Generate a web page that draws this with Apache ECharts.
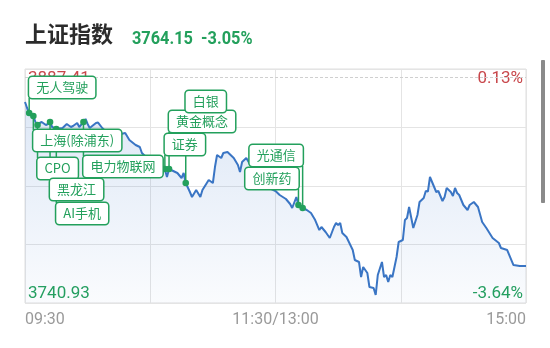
<!DOCTYPE html>
<html><head><meta charset="utf-8">
<script src="https://cdn.jsdelivr.net/npm/echarts@6/dist/echarts.min.js"></script>
<style>html,body{margin:0;padding:0;background:#fff}#c{width:550px;height:348px}</style>
</head><body><div id="c"></div>
<script>
// ---- data ----
const titleText = '上证指数';
const lastPrice = '3764.15';
const lastChange = '-3.05%';
const timeLabels = {0: '09:30', 120: '11:30/13:00', 240: '15:00'};
const yMin = 3740.93, yMax = 3887.41, prevClose = 3882.40;
const topPct = '0.13%', botPct = '-3.64%';
const minutes = [0,1,2,4,5,6,7,8,10,11,
12,13,15,18,20,22,23,25,26,28,
29,30,31,34,35,37,39,42,44,46,
48,50,53,55,56,58,61,63,66,67,
68,69,70,73,75,76,77,79,80,82,
84,85,88,90,91,92,94,95,97,98,
100,102,103,104,106,108,110,113,115,117,
120,122,125,127,128,130,131,133,135,137,
139,141,142,144,146,148,149,150,151,152,
154,157,158,160,161,162,164,165,167,168,
169,171,172,173,174,175,176,178,179,181,
182,183,184,186,188,189,191,192,193,194,
195,197,198,200,201,202,204,205,206,207,
208,210,212,213,215,217,219,221,224,227,
228,231,234,237,240];
const prices = [3866.75,3863.00,3859.87,3857.99,3854.23,3852.35,3853.61,3854.23,3852.35,3852.98,
3854.23,3851.10,3849.85,3850.48,3852.98,3851.10,3851.73,3853.61,3851.10,3854.23,
3856.11,3852.98,3850.48,3853.61,3853.90,3850.48,3847.97,3844.84,3845.47,3846.72,
3847.35,3842.96,3839.83,3838.58,3834.83,3832.32,3829.82,3827.31,3824.18,3824.81,
3819.80,3824.81,3824.18,3822.31,3819.18,3822.31,3816.05,3810.41,3807.28,3811.66,
3807.28,3811.66,3817.92,3816.05,3826.06,3833.57,3831.70,3834.83,3835.45,3834.20,
3831.70,3827.31,3822.93,3829.19,3831.70,3827.31,3822.93,3817.92,3814.79,3812.92,
3811.04,3808.53,3806.03,3802.90,3800.40,3807.28,3802.27,3800.40,3799.14,3797.27,
3792.88,3786.62,3788.50,3785.37,3781.62,3788.50,3791.01,3789.75,3791.01,3784.75,
3782.24,3774.10,3767.84,3766.59,3757.20,3763.46,3759.71,3750.94,3750.32,3745.93,
3758.45,3766.59,3757.20,3758.45,3754.07,3758.45,3757.20,3769.72,3779.11,3780.36,
3792.88,3794.14,3801.02,3787.88,3796.01,3804.15,3806.66,3811.04,3810.70,3819.80,
3816.67,3810.41,3811.04,3804.78,3807.28,3812.92,3810.41,3807.91,3812.92,3809.79,
3808.53,3802.27,3799.14,3802.27,3804.15,3801.02,3791.63,3787.88,3781.62,3778.49,
3775.36,3774.10,3764.71,3764.09,3764.15];
const tagNames = ['无人驾驶','上海(除浦东)','CPO','黑龙江','AI手机','电力物联网','证券','黄金概念','白银','光通信','创新药'];
const tagMinutes = [2,4,6,12,15,28,67,69,77,133,131];
// ---- layout (pixel offsets of label boxes from their dots) ----
const tagLayout = [
  {dy:-36, side:'L'}, {dy:14, side:'L'}, {dy:33, side:'L'}, {dy:57, side:'L'}, {dy:74, side:'L'},
  {dy:34, side:'L'}, {dy:-35, side:'L'}, {dy:-58, side:'L'}, {dy:-92, side:'L'},
  {dy:-63, side:'R'}, {dy:-37, side:'R'}
];
const GREEN = '#23a05c', RED = '#c8474b', BLUE = '#3a75c4';
const BOXH = 21;

const lineData = minutes.map((m, i) => [m, prices[i]]);
const priceAt = m => prices[minutes.indexOf(m)];
const tagData = tagMinutes.map((m, i) => [m, priceAt(m), i]);

const chart = echarts.init(document.getElementById('c'), null, {renderer: 'canvas'});
const option = {
  animation: false,
  backgroundColor: '#fff',
  grid: {left: 25, right: 24, top: 69, bottom: 45, show: true, borderColor: '#dedede', borderWidth: 1},
  xAxis: {
    type: 'value', min: 0, max: 240, interval: 60,
    axisLine: {show: false}, axisTick: {show: false},
    splitLine: {show: true, lineStyle: {color: '#e4e4e4', width: 1}},
    axisLabel: {
      color: '#9a9a9a', fontSize: 16, fontFamily: 'Roboto', margin: 9,
      formatter: v => timeLabels[v] || '',
      alignMinLabel: 'left', alignMaxLabel: 'right'
    }
  },
  yAxis: [
    {type: 'value', min: yMin, max: yMax, show: true, axisLine: {show: false}, axisTick: {show: false},
     axisLabel: {show: false}, splitLine: {show: false}},
    {type: 'value', min: 0, max: 4, interval: 1, axisLine: {show: false}, axisTick: {show: false},
     axisLabel: {show: false}, splitLine: {show: true, lineStyle: {color: '#e4e4e4', width: 1}}}
  ],
  graphic: [
    {type: 'rect', left: 541, top: 60, z: 100, shape: {width: 3, height: 142}, style: {fill: '#8a8a8a', stroke: '#8a8a8a'}}
  ],
  series: [
    {
      type: 'line', data: lineData, yAxisIndex: 0, showSymbol: false, z: 2,
      lineStyle: {color: BLUE, width: 2},
      areaStyle: {color: new echarts.graphic.LinearGradient(0, 0, 0, 1, [
        {offset: 0, color: 'rgba(70,125,205,0.26)'},
        {offset: 1, color: 'rgba(70,125,205,0.04)'}
      ])},
      markLine: {
        silent: true, symbol: 'none', label: {show: false},
        lineStyle: {color: '#cfcfcf', type: [3, 2], width: 1},
        data: [{yAxis: prevClose}]
      }
    },
    {
      type: 'custom', data: tagData, yAxisIndex: 0, z: 5,
      renderItem: (params, api) => {
        const i = api.value(2);
        const p = api.coord([api.value(0), api.value(1)]);
        const L = tagLayout[i];
        const top = p[1] + L.dy;
        const endY = L.dy > 0 ? top : top + BOXH;
        return {type: 'group', children: [
          {type: 'line', shape: {x1: p[0], y1: p[1], x2: p[0], y2: endY}, style: {stroke: GREEN, lineWidth: 1.5}},
          {type: 'circle', shape: {cx: p[0], cy: p[1], r: 3.3}, style: {fill: GREEN}}
        ]};
      }
    },
    {
      type: 'custom', data: tagData, yAxisIndex: 0, z: 6,
      renderItem: (params, api) => {
        const i = api.value(2);
        const p = api.coord([api.value(0), api.value(1)]);
        const L = tagLayout[i];
        const top = p[1] + L.dy;
        return {type: 'text', x: p[0], y: top, style: {
          text: tagNames[i], fill: GREEN, font: '13px "Noto Sans CJK SC"',
          align: L.side === 'L' ? 'left' : 'right', verticalAlign: 'top',
          lineHeight: 15, padding: [3, 7, 3, 7],
          backgroundColor: '#fff', borderColor: GREEN, borderWidth: 1.5, borderRadius: 3
        }};
      }
    }
  ]
};
chart.setOption(option);

const tl = chart.convertToPixel({xAxisIndex: 0, yAxisIndex: 0}, [0, yMax]);
const br = chart.convertToPixel({xAxisIndex: 0, yAxisIndex: 0}, [240, yMin]);
const cornerFont = '17px Roboto';
chart.setOption({graphic: [
  {type: 'rect', left: 541, top: 60, z: 100, shape: {width: 3, height: 142}, style: {fill: '#8a8a8a', stroke: '#8a8a8a'}},
  {type: 'text', left: 25, top: 23, style: {text: titleText, font: 'bold 22px "Noto Sans CJK SC"', fill: '#2b2b2b'}},
  {type: 'text', x: 132, y: 39, scaleX: 0.86, style: {text: lastPrice + '  ' + lastChange, font: 'bold 19px Roboto', fill: GREEN, verticalAlign: 'middle'}},
  {type: 'text', x: tl[0] + 3, y: tl[1] + 1, z: 1, style: {text: yMax.toFixed(2), font: cornerFont, fill: RED, verticalAlign: 'top'}},
  {type: 'text', x: br[0] - 3, y: tl[1] + 1, z: 1, style: {text: topPct, font: cornerFont, fill: RED, align: 'right', verticalAlign: 'top'}},
  {type: 'text', x: tl[0] + 3, y: br[1] - 1, z: 1, style: {text: yMin.toFixed(2), font: cornerFont, fill: GREEN, verticalAlign: 'bottom'}},
  {type: 'text', x: br[0] - 3, y: br[1] - 1, z: 1, style: {text: botPct, font: cornerFont, fill: GREEN, align: 'right', verticalAlign: 'bottom'}}
]}, {replaceMerge: ['graphic']});
</script></body></html>
